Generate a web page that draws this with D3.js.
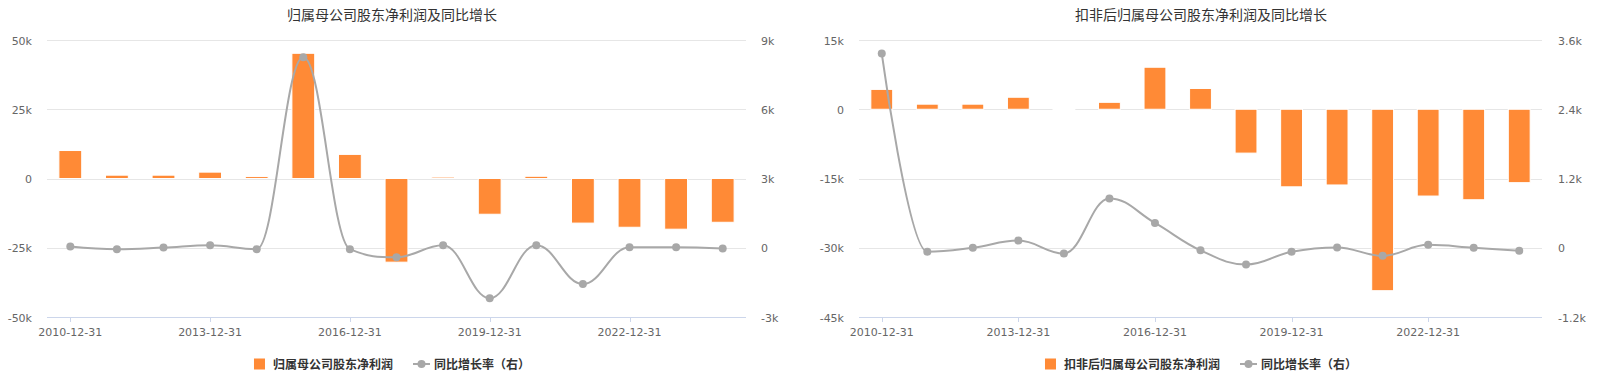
<!DOCTYPE html>
<html>
<head>
<meta charset="utf-8">
<script src="https://cdn.jsdelivr.net/npm/d3@7"></script>
<style>
  body { margin: 0; background: #fff; }
  svg { display: block; }
  .axis-label { font-family: "DejaVu Sans", Verdana, sans-serif; font-size: 11px; fill: #666; }
  .title { font-family: "Noto Sans CJK SC", sans-serif; font-size: 14px; fill: #333; }
  .legend-text { font-family: "Noto Sans CJK SC", sans-serif; font-size: 12px; font-weight: bold; fill: #333; }
</style>
</head>
<body>
<div id="chart"></div>
<script>
  const years = ["2010-12-31", "2011-12-31", "2012-12-31", "2013-12-31", "2014-12-31",
    "2015-12-31", "2016-12-31", "2017-12-31", "2018-12-31", "2019-12-31",
    "2020-12-31", "2021-12-31", "2022-12-31", "2023-12-31", "2024-12-31"];

  // 归属母公司股东净利润 + 同比增长率
  const netProfit = [10100, 1200, 1200, 2300, 700, 45200, 8700, -30200, 500, -12900, 800, -16100, -17600, -18300, -15800];
  const netProfitYoY = [56, -60, 10, 110, -60, 8250, -60, -410, 110, -2190, 110, -1575, 25, 25, -30];

  // 扣非后归属母公司股东净利润 + 同比增长率
  const deductProfit = [4300, 1100, 1100, 2600, -100, 1500, 9100, 4500, -9500, -16800, -16400, -39300, -18800, -19600, -15900];
  const deductProfitYoY = [3365, -70, 0, 125, -100, 855, 430, -45, -290, -70, 5, -140, 50, 0, -50];

  const leftTicksA = [-50000, -25000, 0, 25000, 50000];
  const rightTicksA = [-3000, 0, 3000, 6000, 9000];
  const leftTicksB = [-45000, -30000, -15000, 0, 15000];
  const rightTicksB = [-1200, 0, 1200, 2400, 3600];

  const width = 1598, height = 374;
  const plotTop = 40, plotBottom = 317;

  const barColor = "#ff8a36";
  const lineColor = "#a8a8a8";

  const fmt = v => v === 0 ? "0" : (v / 1000) + "k";

  const svg = d3.select("#chart")
    .append("svg")
    .attr("width", width)
    .attr("height", height);

  // Highcharts style spline (smoothing 1.5, no false extremes)
  function splinePath(pts) {
    const p = d3.path();
    const sm = 1.5, den = sm + 1;
    const ctrl = pts.map((pt, i) => {
      const last = pts[i - 1], next = pts[i + 1];
      if (!last || !next) return null;
      const [x, y] = pt;
      let lx = (sm * x + last[0]) / den, ly = (sm * y + last[1]) / den;
      let rx = (sm * x + next[0]) / den, ry = (sm * y + next[1]) / den;
      let corr = 0;
      if (rx !== lx) corr = ((ry - ly) * (rx - x)) / (rx - lx) + y - ry;
      ly += corr;
      ry += corr;
      if (ly > last[1] && ly > y) { ly = Math.max(last[1], y); ry = 2 * y - ly; }
      else if (ly < last[1] && ly < y) { ly = Math.min(last[1], y); ry = 2 * y - ly; }
      if (ry > next[1] && ry > y) { ry = Math.max(next[1], y); ly = 2 * y - ry; }
      else if (ry < next[1] && ry < y) { ry = Math.min(next[1], y); ly = 2 * y - ry; }
      return { lx, ly, rx, ry };
    });
    pts.forEach((pt, i) => {
      if (i === 0) { p.moveTo(pt[0], pt[1]); return; }
      const prev = pts[i - 1], pc = ctrl[i - 1], c = ctrl[i];
      p.bezierCurveTo(
        pc ? pc.rx : prev[0], pc ? pc.ry : prev[1],
        c ? c.lx : pt[0], c ? c.ly : pt[1],
        pt[0], pt[1]);
    });
    return p.toString();
  }

  function drawChart(cfg) {
    const g = svg.append("g");

    const x = d3.scaleBand()
      .domain(years)
      .range([cfg.x0, cfg.x1]);

    const yL = d3.scaleLinear()
      .domain(d3.extent(cfg.leftTicks))
      .range([plotBottom, plotTop]);

    const yR = d3.scaleLinear()
      .domain(d3.extent(cfg.rightTicks))
      .range([plotBottom, plotTop]);

    // grid
    g.selectAll(".grid")
      .data(cfg.leftTicks.slice(1))
      .enter()
      .append("line")
      .attr("x1", cfg.x0)
      .attr("x2", cfg.x1)
      .attr("y1", d => Math.round(yL(d)) + 0.5)
      .attr("y2", d => Math.round(yL(d)) + 0.5)
      .attr("stroke", "#e6e6e6");

    // x axis line + ticks
    g.append("line")
      .attr("x1", cfg.x0)
      .attr("x2", cfg.x1)
      .attr("y1", plotBottom + 0.5)
      .attr("y2", plotBottom + 0.5)
      .attr("stroke", "#ccd6eb");

    const shown = years.filter((d, i) => i % 3 === 0);

    g.selectAll(".xtick")
      .data(shown)
      .enter()
      .append("line")
      .attr("x1", d => Math.round(x(d) + x.bandwidth() / 2) + 0.5)
      .attr("x2", d => Math.round(x(d) + x.bandwidth() / 2) + 0.5)
      .attr("y1", plotBottom)
      .attr("y2", plotBottom + 5)
      .attr("stroke", "#ccd6eb");

    g.selectAll(".xlabel")
      .data(shown)
      .enter()
      .append("text")
      .attr("class", "axis-label")
      .attr("x", d => x(d) + x.bandwidth() / 2)
      .attr("y", 336)
      .attr("text-anchor", "middle")
      .text(d => d);

    // y labels
    g.selectAll(".ylabelL")
      .data(cfg.leftTicks)
      .enter()
      .append("text")
      .attr("class", "axis-label")
      .attr("x", cfg.leftLabelX)
      .attr("y", d => yL(d) + 4.5)
      .attr("text-anchor", "end")
      .text(fmt);

    g.selectAll(".ylabelR")
      .data(cfg.rightTicks)
      .enter()
      .append("text")
      .attr("class", "axis-label")
      .attr("x", cfg.rightLabelX)
      .attr("y", d => yR(d) + 4.5)
      .attr("text-anchor", "start")
      .text(fmt);

    // bars
    const bw = x.bandwidth() * cfg.barRatio;
    g.selectAll(".bar")
      .data(cfg.bars)
      .enter()
      .append("rect")
      .attr("x", (d, i) => x(years[i]) + (x.bandwidth() - bw) / 2)
      .attr("y", d => Math.min(yL(d), yL(0)))
      .attr("width", bw)
      .attr("height", d => Math.abs(yL(d) - yL(0)))
      .attr("fill", barColor)
      .attr("stroke", "#fff")
      .attr("stroke-width", 1);

    // line
    const pts = cfg.yoy.map((d, i) => [x(years[i]) + x.bandwidth() / 2, yR(d)]);

    g.append("path")
      .attr("d", splinePath(pts))
      .attr("fill", "none")
      .attr("stroke", lineColor)
      .attr("stroke-width", 2);

    g.selectAll(".dot")
      .data(pts)
      .enter()
      .append("circle")
      .attr("cx", d => d[0])
      .attr("cy", d => d[1])
      .attr("r", 4)
      .attr("fill", lineColor);

    // title
    g.append("text")
      .attr("class", "title")
      .attr("x", cfg.centerX)
      .attr("y", 20)
      .attr("text-anchor", "middle")
      .text(cfg.title);

    // legend
    const leg = g.append("g");
    const ly = 364;
    leg.append("rect")
      .attr("x", 0)
      .attr("y", ly - 5.5)
      .attr("width", 11)
      .attr("height", 11)
      .attr("fill", barColor);
    const t1 = leg.append("text")
      .attr("class", "legend-text")
      .attr("x", 19)
      .attr("y", ly + 4.5)
      .text(cfg.barName);
    const w1 = t1.node().getComputedTextLength();
    const lx = 19 + w1 + 20;
    leg.append("line")
      .attr("x1", lx)
      .attr("x2", lx + 17)
      .attr("y1", ly)
      .attr("y2", ly)
      .attr("stroke", lineColor)
      .attr("stroke-width", 2);
    leg.append("circle")
      .attr("cx", lx + 8.5)
      .attr("cy", ly)
      .attr("r", 4)
      .attr("fill", lineColor);
    const t2 = leg.append("text")
      .attr("class", "legend-text")
      .attr("x", lx + 21)
      .attr("y", ly + 4.5)
      .text("同比增长率（右）");
    const total = lx + 21 + t2.node().getComputedTextLength();
    leg.attr("transform", `translate(${cfg.centerX - total / 2},0)`);
  }

  drawChart({
    title: "归属母公司股东净利润及同比增长",
    barName: "归属母公司股东净利润",
    bars: netProfit,
    yoy: netProfitYoY,
    leftTicks: leftTicksA,
    rightTicks: rightTicksA,
    x0: 47,
    x1: 746,
    barRatio: 0.49,
    leftLabelX: 32,
    rightLabelX: 761,
    centerX: 392
  });

  drawChart({
    title: "扣非后归属母公司股东净利润及同比增长",
    barName: "扣非后归属母公司股东净利润",
    bars: deductProfit,
    yoy: deductProfitYoY,
    leftTicks: leftTicksB,
    rightTicks: rightTicksB,
    x0: 859,
    x1: 1542,
    barRatio: 0.48,
    leftLabelX: 844,
    rightLabelX: 1558,
    centerX: 1201
  });
</script>
</body>
</html>
